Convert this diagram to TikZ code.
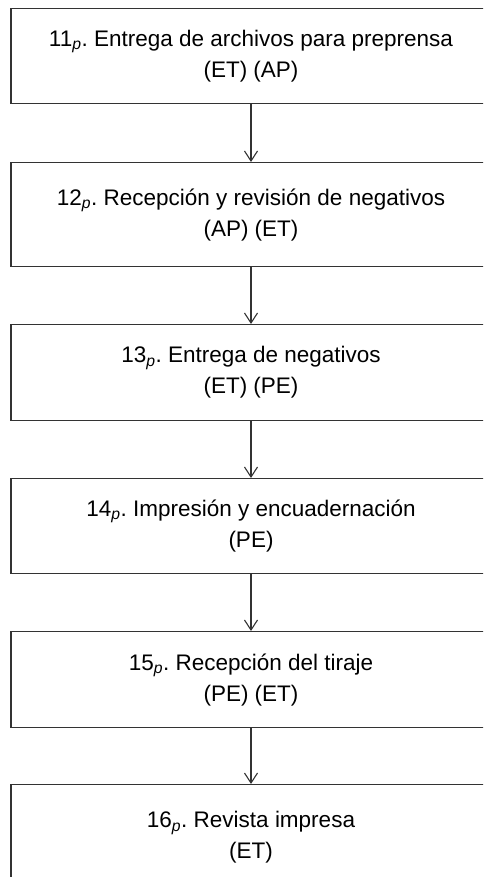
\documentclass[tikz,border=0pt]{standalone}
\usepackage{fontspec}
\setmainfont{Liberation Sans}
\usetikzlibrary{arrows.meta}
\frenchspacing
\tikzset{
  box/.style={draw=black!80, line width=1.2pt, rectangle, minimum width=480pt,
    align=center, inner sep=0pt, font=\fontsize{22.5}{31}\selectfont},
  arr/.style={draw=black!80, line width=1.1pt, -{Straight Barb[length=10pt,width=13pt,line width=1.1pt]}}
}
\newcommand{\pp}{\textsubscript{\textit{p}}}
\begin{document}
\begin{tikzpicture}[x=1pt,y=-1pt]
\useasboundingbox (0,0) rectangle (483,877);
\clip (0,0) rectangle (483,877);
\node[box, minimum height=95pt, anchor=north] (b1) at (251,8)
  {11\pp.\ Entrega de archivos para preprensa\\(ET) (AP)};
\node[box, minimum height=104pt, anchor=north] (b2) at (251,162)
  {12\pp.\ Recepción y revisión de negativos\\(AP) (ET)};
\node[box, minimum height=96pt, anchor=north] (b3) at (251,324)
  {13\pp.\ Entrega de negativos\\(ET) (PE)};
\node[box, minimum height=95pt, anchor=north] (b4) at (251,478)
  {14\pp.\ Impresión y encuadernación\\(PE)};
\node[box, minimum height=96pt, anchor=north] (b5) at (251,631)
  {15\pp.\ Recepción del tiraje\\(PE) (ET)};
\node[box, minimum height=106pt, anchor=north] (b6) at (251,784)
  {16\pp.\ Revista impresa\\(ET)};
\draw[arr] (b1.south) -- (b2.north);
\draw[arr] (b2.south) -- (b3.north);
\draw[arr] (b3.south) -- (b4.north);
\draw[arr] (b4.south) -- (b5.north);
\draw[arr] (b5.south) -- (b6.north);
\end{tikzpicture}
\end{document}
